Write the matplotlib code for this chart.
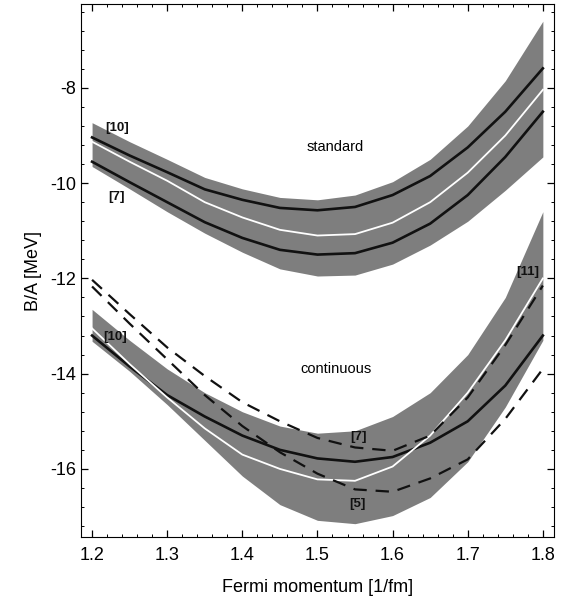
import matplotlib
matplotlib.use("Agg")
import matplotlib.pyplot as plt
import matplotlib.ticker as mticker

plt.rcParams['font.family'] = ['Liberation Sans', 'DejaVu Sans']
plt.rcParams['axes.unicode_minus'] = False

# Fermi momentum grid [1/fm]
kf = [1.20, 1.25, 1.30, 1.35, 1.40, 1.45, 1.50, 1.55, 1.60, 1.65, 1.70, 1.75, 1.80]

# standard choice: band + curves
std_top = [-8.73, -9.13, -9.50, -9.88, -10.12, -10.30, -10.35, -10.25, -9.97, -9.50, -8.80, -7.85, -6.60]
std_bot = [-9.65, -10.12, -10.60, -11.05, -11.45, -11.80, -11.95, -11.93, -11.70, -11.30, -10.80, -10.15, -9.45]
std_ref10 = [-9.04, -9.42, -9.77, -10.13, -10.35, -10.52, -10.57, -10.50, -10.25, -9.85, -9.25, -8.50, -7.59]
std_mid = [-9.13, -9.55, -9.95, -10.40, -10.72, -10.98, -11.10, -11.07, -10.83, -10.40, -9.78, -9.00, -8.04]
std_ref7 = [-9.55, -9.98, -10.40, -10.82, -11.15, -11.40, -11.50, -11.47, -11.25, -10.85, -10.25, -9.45, -8.50]

# continuous choice: band + curves
con_top = [-12.65, -13.30, -13.90, -14.40, -14.80, -15.10, -15.25, -15.20, -14.90, -14.40, -13.60, -12.40, -10.60]
con_bot = [-13.32, -13.95, -14.65, -15.40, -16.15, -16.75, -17.08, -17.15, -16.98, -16.60, -15.85, -14.70, -13.30]
con_ref10 = [-13.20, -13.85, -14.45, -14.90, -15.30, -15.60, -15.78, -15.85, -15.75, -15.45, -15.00, -14.25, -13.20]
con_mid = [-13.05, -13.80, -14.50, -15.15, -15.70, -16.00, -16.22, -16.25, -15.95, -15.30, -14.40, -13.30, -12.00]
con_ref7 = [-12.03, -12.75, -13.45, -14.05, -14.60, -15.00, -15.35, -15.55, -15.62, -15.30, -14.50, -13.40, -12.15]
con_ref5 = [-12.17, -12.95, -13.70, -14.45, -15.10, -15.65, -16.10, -16.43, -16.48, -16.20, -15.80, -14.95, -13.90]

# text labels: (text, x, y)
refs = [("[10]", 1.233, -8.84), ("[7]", 1.233, -10.29), ("[10]", 1.231, -13.24),
        ("[7]", 1.554, -15.34), ("[5]", 1.553, -16.74), ("[11]", 1.78, -11.86)]

fig = plt.figure(figsize=(5.67, 6.07), dpi=100)
ax = fig.add_axes([0.1429, 0.1153, 0.834, 0.878])

band = '#7e7e7e'
ax.fill_between(kf, std_bot, std_top, color=band, lw=0)
ax.fill_between(kf, con_bot, con_top, color=band, lw=0)

ax.plot(kf, std_ref10, color='#111111', lw=1.9)
ax.plot(kf, std_ref7, color='#111111', lw=1.9)
ax.plot(kf, std_mid, color='white', lw=1.3)

ax.plot(kf, con_ref10, color='#111111', lw=1.9)
ax.plot(kf, con_mid, color='white', lw=1.3)
ax.plot(kf, con_ref7, color='#111111', lw=1.6, dashes=(6, 4))
ax.plot(kf, con_ref5, color='#111111', lw=1.6, dashes=(6, 4))

for txt, x, y in refs:
    ax.text(x, y, txt, fontsize=9.5, fontweight='bold', ha='center', va='center', color='#111111')
ax.text(1.523, -9.24, "standard", fontsize=10.5, ha='center', va='center')
ax.text(1.525, -13.91, "continuous", fontsize=10.5, ha='center', va='center')

ax.set_xlim(1.1853, 1.8147)
ax.set_ylim(-17.43, -6.24)
ax.xaxis.set_major_locator(mticker.MultipleLocator(0.1))
ax.xaxis.set_minor_locator(mticker.MultipleLocator(0.02))
ax.yaxis.set_major_locator(mticker.MultipleLocator(2))
ax.yaxis.set_minor_locator(mticker.MultipleLocator(0.4))
ax.xaxis.set_major_formatter(mticker.FormatStrFormatter('%.1f'))
ax.yaxis.set_major_formatter(mticker.FormatStrFormatter('%d'))
ax.tick_params(which='both', direction='in', top=True, right=True, labelsize=13)
ax.tick_params(which='major', length=5, width=0.9)
ax.tick_params(which='minor', length=2.5, width=0.7)
ax.tick_params(axis='x', pad=7)

ax.set_xlabel("Fermi momentum [1/fm]", fontsize=13, labelpad=11)
ax.set_ylabel("B/A [MeV]", fontsize=13, labelpad=6)

fig.savefig("out.png", dpi=100)
